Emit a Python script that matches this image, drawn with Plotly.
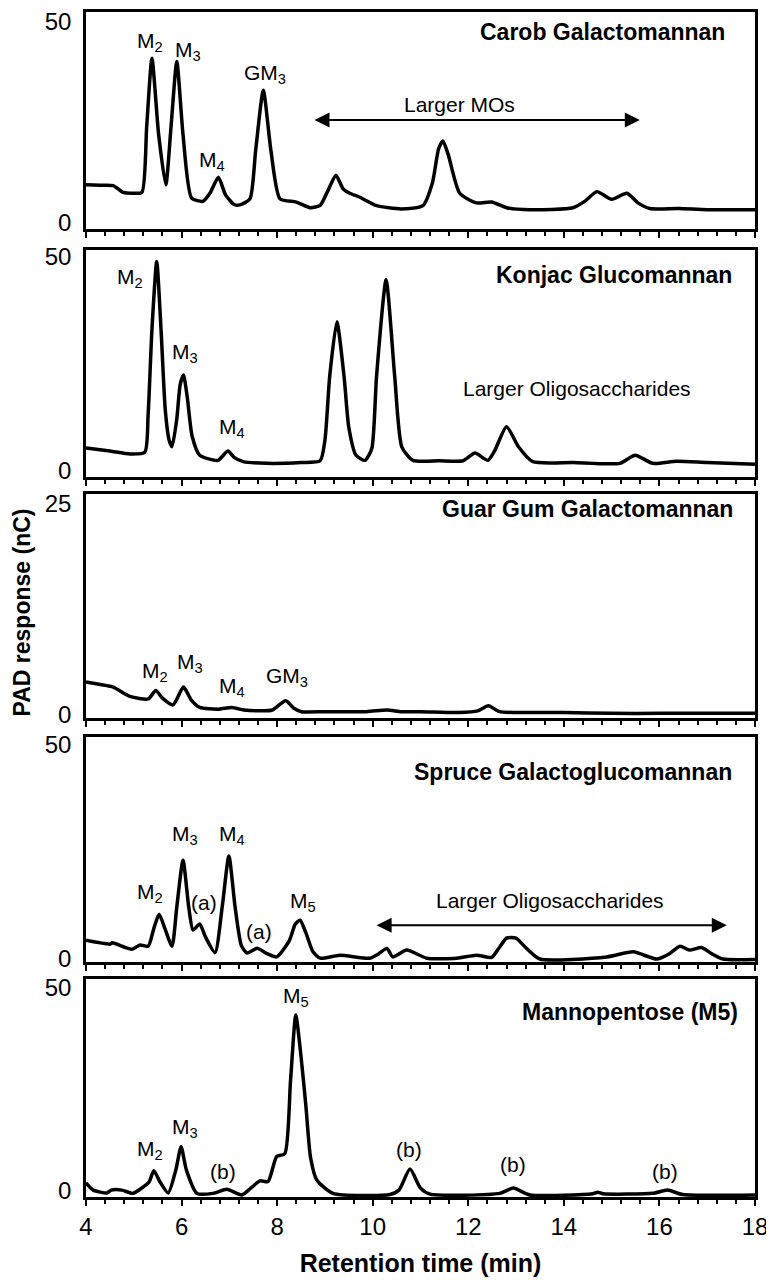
import plotly.graph_objects as go

# retention time (min) / PAD response (nC)
carob_x = [4.0, 4.3, 4.57, 4.78, 5.0, 5.17, 5.27, 5.38, 5.52, 5.67, 5.78, 5.9, 6.03, 6.21, 6.45,
           6.6, 6.77, 6.92, 7.1, 7.22, 7.43, 7.55, 7.71, 7.87, 8.06, 8.4, 8.69, 8.9, 9.08, 9.23,
           9.38, 9.52, 9.73, 10.08, 10.6, 11.05, 11.25, 11.38, 11.47, 11.58, 11.82, 12.17, 12.49,
           12.8, 13.29, 14.19, 14.45, 14.69, 15.0, 15.32, 15.55, 15.8, 16.4, 17.0, 18.0]
carob_y = [9.5, 9.4, 9.3, 7.6, 7.4, 7.6, 24, 41, 22, 9.5, 24, 40.2, 22, 6.2, 5.4,
           7.5, 11.4, 7, 4.6, 4.5, 6, 18, 33, 18, 6, 5.2, 3.8, 4.4, 8.5, 11.9,
           8.5, 7.4, 6.4, 4.3, 3.5, 4.3, 10, 18.5, 20.4, 17, 7.4, 5.0, 5.2,
           3.8, 3.3, 3.8, 5.5, 7.8, 5.9, 7.4, 5.0, 3.6, 3.6, 3.3, 3.3]

konjac_x = [4.0, 4.5, 4.92, 5.23, 5.3, 5.38, 5.48, 5.57, 5.66, 5.74, 5.8, 5.9, 5.97, 6.04, 6.12,
            6.22, 6.38, 6.76, 6.97, 7.1, 7.29, 7.78, 8.5, 8.9, 9.0, 9.1, 9.25, 9.4, 9.5, 9.65,
            9.84, 9.98, 10.08, 10.28, 10.46, 10.61, 10.84, 11.4, 11.89, 12.14, 12.41, 12.55,
            12.8, 13.05, 13.35, 14.2, 15.17, 15.49, 15.86, 16.36, 17.0, 18.0]
konjac_y = [5.2, 4.5, 3.8, 4.2, 13, 33, 48.9, 33, 14, 7, 5.5, 12, 20, 22.3, 17,
            8, 3.5, 2.3, 4.5, 3, 2.0, 1.6, 1.8, 2.2, 7, 22, 34.8, 22, 10, 3.5,
            2.3, 5, 22, 44.6, 22, 5.4, 2.3, 2.2, 2.2, 4.0, 2.3, 4.5,
            10.2, 5.5, 2.0, 1.8, 1.6, 3.5, 1.6, 2.1, 1.8, 1.4]

guar_x = [4.0, 4.3, 4.57, 4.92, 5.3, 5.46, 5.6, 5.82, 6.04, 6.2, 6.38, 6.77, 7.05, 7.3, 7.64,
          7.9, 8.18, 8.35, 8.51, 9.0, 9.87, 10.3, 10.6, 11.0, 11.8, 12.2, 12.42, 12.65, 13.0,
          14.0, 15.0, 16.0, 17.0, 18.0]
guar_y = [3.9, 3.6, 3.3, 2.2, 1.9, 2.9, 2.0, 1.2, 3.3, 1.8, 0.9, 0.7, 0.9, 0.6, 0.5,
          0.6, 1.7, 0.8, 0.4, 0.4, 0.4, 0.6, 0.4, 0.4, 0.3, 0.5, 1.1, 0.4, 0.3,
          0.3, 0.2, 0.2, 0.2, 0.2]

spruce_x = [4.0, 4.5, 4.55, 4.96, 5.13, 5.3, 5.42, 5.53, 5.65, 5.8, 5.9, 6.03, 6.15, 6.24, 6.38,
            6.5, 6.7, 6.85, 6.99, 7.12, 7.25, 7.37, 7.58, 7.8, 7.99, 8.25, 8.38, 8.48, 8.6,
            8.75, 8.9, 9.31, 9.94, 10.12, 10.3, 10.42, 10.71, 11.13, 11.76, 12.17, 12.49,
            12.65, 12.8, 13.0, 13.2, 13.5, 14.9, 15.45, 15.94, 16.2, 16.43, 16.63, 16.88,
            17.1, 17.33, 18.0]
spruce_y = [4.2, 3.3, 3.6, 2.1, 3.1, 2.8, 7, 10.3, 7, 2.8, 12, 23, 12, 6.6, 8.0,
            5, 1.3, 12, 24, 12, 3, 1.2, 2.3, 1, 0.3, 4, 8, 8.9, 6,
            1.5, 0, 0.7, 0, 1, 2.3, 0.3, 1.9, 0, 0, 0.7, 0.2,
            2.5, 4.7, 4.7, 2.5, -0.2, 0.3, 1.5, -0.2, 1.0, 2.8, 1.9, 2.5,
            1.0, -0.2, -0.3]

manno_x = [4.0, 4.15, 4.44, 4.53, 4.75, 4.98, 5.2, 5.32, 5.42, 5.55, 5.72, 5.88, 5.99, 6.1, 6.32,
           6.66, 6.95, 7.26, 7.45, 7.64, 7.81, 7.99, 8.16, 8.28, 8.39, 8.5, 8.6, 8.7, 8.83, 9.17,
           10.36, 10.55, 10.78, 11.0, 11.2, 12.66, 12.94, 13.29, 14.6, 14.71, 14.82, 15.86,
           16.17, 16.49, 18.0]
manno_y = [1.8, 0, -0.7, 0, 0, -0.8, 0.8, 2, 4.8, 2, -0.7, 5, 10.7, 5, -0.8,
           -0.8, 0.2, -1.2, 0.5, 2.3, 2.1, 8.3, 9.0, 27, 43.3, 33, 21, 8, 2.5, -0.8,
           -1.1, 0, 5.2, 0.5, -1, -0.8, 0.5, -1.2, -0.9, -0.5, -0.9, -0.8,
           0, -1.1, -1.2]

panel_names = ["Carob Galactomannan", "Konjac Glucomannan", "Guar Gum Galactomannan",
               "Spruce Galactoglucomannan", "Mannopentose (M5)"]
panel_x = [carob_x, konjac_x, guar_x, spruce_x, manno_x]
panel_y = [carob_y, konjac_y, guar_y, spruce_y, manno_y]
y_ticks = [[0, 50], [0, 50], [0, 25], [0, 50], [0, 50]]
y_ranges = [[-1.49, 52.49], [-1.6, 51.6], [-0.35, 26.1], [-0.9, 51.9], [-1.7, 52.2]]
domains = [[0.8169, 1.0], [0.6076, 0.7992], [0.4042, 0.5932], [0.1983, 0.3882], [0.0, 0.184]]
title_pos = [(0.958, 0.908), (0.969, 0.89), (0.97, 0.933), (0.969, 0.844), (0.978, 0.849)]

# peak labels: (panel, x, y, text)
peak_labels = [
    (0, 5.34, 45, "M<sub>2</sub>"), (0, 6.13, 42.9, "M<sub>3</sub>"),
    (0, 6.64, 15.4, "M<sub>4</sub>"), (0, 7.74, 37, "GM<sub>3</sub>"),
    (0, 11.82, 29.5, "Larger MOs"),
    (1, 4.92, 45, "M<sub>2</sub>"), (1, 6.07, 27.5, "M<sub>3</sub>"),
    (1, 7.05, 9.9, "M<sub>4</sub>"), (1, 14.27, 19.2, "Larger Oligosaccharides"),
    (2, 5.44, 5.1, "M<sub>2</sub>"), (2, 6.18, 6.1, "M<sub>3</sub>"),
    (2, 7.05, 3.3, "M<sub>4</sub>"), (2, 8.2, 4.5, "GM<sub>3</sub>"),
    (3, 5.34, 15.2, "M<sub>2</sub>"), (3, 6.07, 28.9, "M<sub>3</sub>"),
    (3, 6.47, 13.1, "(a)"), (3, 7.05, 28.9, "M<sub>4</sub>"),
    (3, 7.62, 6.3, "(a)"), (3, 8.54, 13.1, "M<sub>5</sub>"),
    (3, 13.71, 13.6, "Larger Oligosaccharides"),
    (4, 5.34, 9.9, "M<sub>2</sub>"), (4, 6.07, 15.3, "M<sub>3</sub>"),
    (4, 6.86, 4.7, "(b)"), (4, 8.39, 47.8, "M<sub>5</sub>"),
    (4, 10.76, 10.1, "(b)"), (4, 12.93, 6.4, "(b)"), (4, 16.11, 4.7, "(b)"),
]
# double-headed arrows: (panel, x_start, x_end, y)
range_arrows = [(0, 8.75, 15.59, 25.6), (3, 10.05, 17.41, 7.7)]

font_family = "Arial, Liberation Sans, sans-serif"

fig = go.Figure()
layout = {}
for i in range(5):
    n = "" if i == 0 else str(i + 1)
    fig.add_trace(go.Scatter(x=panel_x[i], y=panel_y[i], mode="lines",
                             line=dict(color="black", width=3.5, shape="spline", smoothing=0.6),
                             xaxis="x" + n, yaxis="y" + n, showlegend=False))
    layout["xaxis" + n] = dict(
        domain=[0, 1], anchor="y" + n, range=[4, 18], tick0=4, dtick=2,
        showline=True, mirror=True, linecolor="black", linewidth=2.5,
        ticks="outside", ticklen=6, tickwidth=2, tickcolor="black",
        minor=dict(dtick=0.4, tick0=4, ticks="outside", ticklen=4, tickwidth=1.5, tickcolor="black"),
        showgrid=False, zeroline=False, showticklabels=(i == 4), automargin=False,
        tickfont=dict(size=24, color="black", family=font_family),
    )
    if i > 0:
        layout["xaxis" + n]["matches"] = "x"
    layout["yaxis" + n] = dict(
        domain=domains[i], anchor="x" + n, range=y_ranges[i], tickvals=y_ticks[i],
        showline=True, mirror=True, linecolor="black", linewidth=2.5, automargin=False,
        ticks="", showgrid=False, zeroline=False, ticklabelstandoff=7,
        ticklabeloverflow="allow",
        tickfont=dict(size=24, color="black", family=font_family),
    )

layout["xaxis5"]["title"] = dict(text="<b>Retention time (min)</b>", standoff=16,
                                 font=dict(size=25, color="black", family=font_family))

annotations = []
for i, name in enumerate(panel_names):
    n = "" if i == 0 else str(i + 1)
    tx, ty = title_pos[i]
    annotations.append(dict(text="<b>" + name + "</b>", x=tx, y=ty, xref="x" + n + " domain",
                            yref="y" + n + " domain", xanchor="right", yanchor="middle",
                            showarrow=False, font=dict(size=23, color="black", family=font_family)))
for p, lx, ly, txt in peak_labels:
    n = "" if p == 0 else str(p + 1)
    annotations.append(dict(text=txt, x=lx, y=ly, xref="x" + n, yref="y" + n,
                            showarrow=False, font=dict(size=21, color="black", family=font_family)))
for p, xs, xe, ya in range_arrows:
    n = "" if p == 0 else str(p + 1)
    annotations.append(dict(text="", x=xe, y=ya, ax=xs, ay=ya, xref="x" + n, yref="y" + n,
                            axref="x" + n, ayref="y" + n, showarrow=True, arrowhead=2,
                            arrowside="end+start", arrowsize=1.5, arrowwidth=2, arrowcolor="black"))
annotations.append(dict(text="<b>PAD response (nC)</b>", x=-0.095, y=0.4937, xref="paper", yref="paper",
                        textangle=-90, showarrow=False, xanchor="center", yanchor="middle",
                        font=dict(size=23, color="black", family=font_family)))

fig.update_layout(**layout)
fig.update_layout(
    width=766, height=1272,
    margin=dict(l=78, r=19, t=4, b=83, autoexpand=False),
    paper_bgcolor="white", plot_bgcolor="white",
    annotations=annotations,
    font=dict(family=font_family, color="black"),
)
fig.write_html("out.html")
